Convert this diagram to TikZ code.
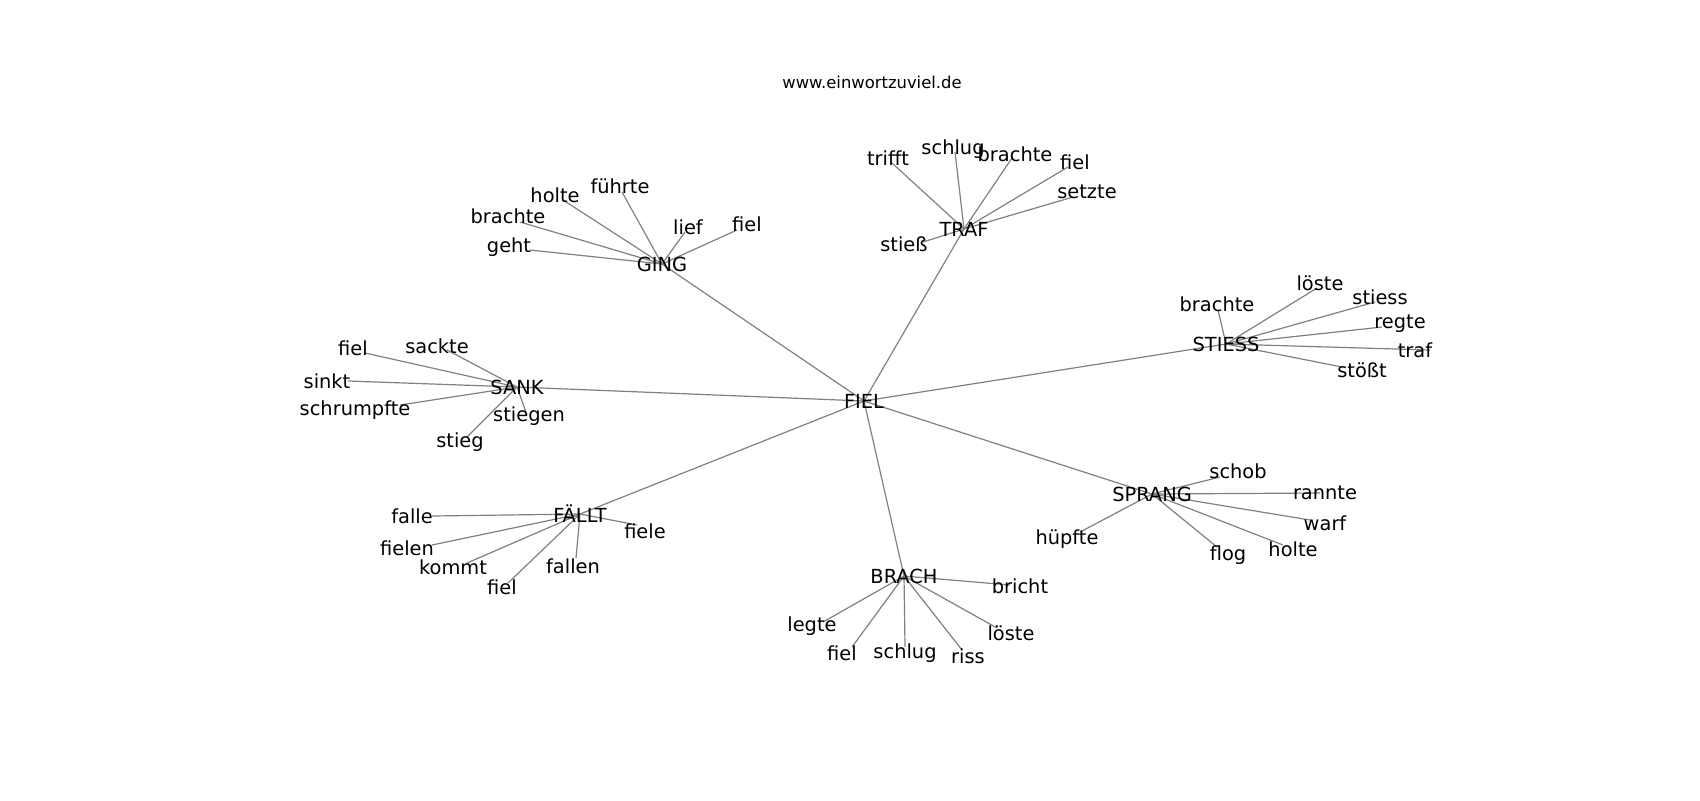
\documentclass[tikz,border=0pt]{standalone}
\usepackage{fontspec}
\setmainfont{DejaVu Sans}
\usetikzlibrary{backgrounds}

\begin{document}
\begin{tikzpicture}[
      x=0.5pt, y=-0.5pt,
      word/.style={inner sep=0pt, font=\fontsize{9.7}{11.6}\selectfont},
      hub/.style={word},
      title/.style={inner sep=0pt, font=\fontsize{8.2}{9.8}\selectfont},
      edge/.style={draw=black!50, line width=0.6pt}
      ]
      \useasboundingbox (0,0) rectangle (1700,800);

      % Title
      \node[title] (site) at (872,82) {www.einwortzuviel.de};

      % Centre word
      \node[hub] (fiel) at (864,401) {FIEL};

      % Hub words round the centre
      \node[hub] (ging) at (662,264) {GING};
      \node[hub] (traf) at (964,229) {TRAF};
      \node[hub] (stiess) at (1226,344) {STIESS};
      \node[hub] (sank) at (517,387) {SANK};
      \node[hub] (faellt) at (580,514) {FÄLLT};
      \node[hub] (brach) at (904,576) {BRACH};
      \node[hub] (sprang) at (1152,494) {SPRANG};

      % Leaves of GING
      \node[word] (gingGeht) at (509,247) {geht};
      \node[word] (gingBrachte) at (508,216) {brachte};
      \node[word] (gingHolte) at (555,195) {holte};
      \node[word] (gingFuehrte) at (620,186) {führte};
      \node[word] (gingLief) at (688,227) {lief};
      \node[word] (gingFiel) at (747,224) {fiel};

      % Leaves of TRAF
      \node[word] (trafTrifft) at (888,158) {trifft};
      \node[word] (trafSchlug) at (953,149) {schlug};
      \node[word] (trafBrachte) at (1015,154) {brachte};
      \node[word] (trafFiel) at (1075,162) {fiel};
      \node[word] (trafSetzte) at (1087,192) {setzte};
      \node[word] (trafStiess) at (904,244) {stieß};

      % Leaves of STIESS
      \node[word] (stiessBrachte) at (1217,304) {brachte};
      \node[word] (stiessLoeste) at (1320,283) {löste};
      \node[word] (stiessStiess) at (1380,297) {stiess};
      \node[word] (stiessRegte) at (1400,324) {regte};
      \node[word] (stiessTraf) at (1415,350) {traf};
      \node[word] (stiessStoesst) at (1362,370) {stößt};

      % Leaves of SANK
      \node[word] (sankFiel) at (353,348) {fiel};
      \node[word] (sankSackte) at (437,346) {sackte};
      \node[word] (sankSinkt) at (327,381) {sinkt};
      \node[word] (sankSchrumpfte) at (355,410) {schrumpfte};
      \node[word] (sankStiegen) at (529,416) {stiegen};
      \node[word] (sankStieg) at (460,442) {stieg};

      % Leaves of FÄLLT
      \node[word] (faelltFalle) at (412,516) {falle};
      \node[word] (faelltFiele) at (645,531) {fiele};
      \node[word] (faelltFielen) at (407,548) {fielen};
      \node[word] (faelltKommt) at (453,567) {kommt};
      \node[word] (faelltFallen) at (573,566) {fallen};
      \node[word] (faelltFiel) at (502,587) {fiel};

      % Leaves of BRACH
      \node[word] (brachBricht) at (1020,586) {bricht};
      \node[word] (brachLegte) at (812,626) {legte};
      \node[word] (brachFiel) at (842,653) {fiel};
      \node[word] (brachSchlug) at (905,653) {schlug};
      \node[word] (brachRiss) at (968,656) {riss};
      \node[word] (brachLoeste) at (1011,633) {löste};

      % Leaves of SPRANG
      \node[word] (sprangSchob) at (1238,471) {schob};
      \node[word] (sprangRannte) at (1325,493) {rannte};
      \node[word] (sprangWarf) at (1325,523) {warf};
      \node[word] (sprangHolte) at (1293,549) {holte};
      \node[word] (sprangFlog) at (1228,555) {flog};
      \node[word] (sprangHuepfte) at (1067,539) {hüpfte};

      % Edges - behind the words
      \begin{scope}[on background layer]
        \draw[edge] (fiel.center) -- (ging.center);
        \draw[edge] (fiel.center) -- (traf.center);
        \draw[edge] (fiel.center) -- (stiess.center);
        \draw[edge] (fiel.center) -- (sank.center);
        \draw[edge] (fiel.center) -- (faellt.center);
        \draw[edge] (fiel.center) -- (brach.center);
        \draw[edge] (fiel.center) -- (sprang.center);

        \draw[edge] (ging.center) -- ([shift={(21,3)}]gingGeht.center);
        \draw[edge] (ging.center) -- ([shift={(12,6)}]gingBrachte.center);
        \draw[edge] (ging.center) -- ([shift={(8,5)}]gingHolte.center);
        \draw[edge] (ging.center) -- ([shift={(2,6)}]gingFuehrte.center);
        \draw[edge] (ging.center) -- ([shift={(-3,5)}]gingLief.center);
        \draw[edge] (ging.center) -- ([shift={(-10,6)}]gingFiel.center);

        \draw[edge] (traf.center) -- ([shift={(4,5)}]trafTrifft.center);
        \draw[edge] (traf.center) -- ([shift={(2,3)}]trafSchlug.center);
        \draw[edge] (traf.center) -- ([shift={(-3,4)}]trafBrachte.center);
        \draw[edge] (traf.center) -- ([shift={(-7,5)}]trafFiel.center);
        \draw[edge] (traf.center) -- ([shift={(-14,5)}]trafSetzte.center);
        \draw[edge] (traf.center) -- ([shift={(19,-2)}]trafStiess.center);

        \draw[edge] (stiess.center) -- ([shift={(1,6)}]stiessBrachte.center);
        \draw[edge] (stiess.center) -- ([shift={(-3,5)}]stiessLoeste.center);
        \draw[edge] (stiess.center) -- ([shift={(-5,5)}]stiessStiess.center);
        \draw[edge] (stiess.center) -- ([shift={(-18,3)}]stiessRegte.center);
        \draw[edge] (stiess.center) -- ([shift={(15,0)}]stiessTraf.center);
        \draw[edge] (stiess.center) -- ([shift={(-20,-3)}]stiessStoesst.center);

        \draw[edge] (sank.center) -- ([shift={(12,5)}]sankFiel.center);
        \draw[edge] (sank.center) -- ([shift={(10,4)}]sankSackte.center);
        \draw[edge] (sank.center) -- ([shift={(21,0)}]sankSinkt.center);
        \draw[edge] (sank.center) -- ([shift={(45,-5)}]sankSchrumpfte.center);
        \draw[edge] (sank.center) -- ([shift={(-2,-1)}]sankStiegen.center);
        \draw[edge] (sank.center) -- ([shift={(7,-5)}]sankStieg.center);

        \draw[edge] (faellt.center) -- ([shift={(20,0)}]faelltFalle.center);
        \draw[edge] (faellt.center) -- ([shift={(-8,-6)}]faelltFiele.center);
        \draw[edge] (faellt.center) -- ([shift={(25,-3)}]faelltFielen.center);
        \draw[edge] (faellt.center) -- ([shift={(14,-4)}]faelltKommt.center);
        \draw[edge] (faellt.center) -- ([shift={(3,-8)}]faelltFallen.center);
        \draw[edge] (faellt.center) -- ([shift={(6,-4)}]faelltFiel.center);

        \draw[edge] (brach.center) -- ([shift={(-10,-1)}]brachBricht.center);
        \draw[edge] (brach.center) -- ([shift={(11,-4)}]brachLegte.center);
        \draw[edge] (brach.center) -- ([shift={(10,-6)}]brachFiel.center);
        \draw[edge] (brach.center) -- ([shift={(0,-6)}]brachSchlug.center);
        \draw[edge] (brach.center) -- ([shift={(-6,-6)}]brachRiss.center);
        \draw[edge] (brach.center) -- ([shift={(-14,-5)}]brachLoeste.center);

        \draw[edge] (sprang.center) -- ([shift={(-18,6)}]sprangSchob.center);
        \draw[edge] (sprang.center) -- ([shift={(-5,0)}]sprangRannte.center);
        \draw[edge] (sprang.center) -- ([shift={(-15,-3)}]sprangWarf.center);
        \draw[edge] (sprang.center) -- ([shift={(-10,-4)}]sprangHolte.center);
        \draw[edge] (sprang.center) -- ([shift={(-11,-8)}]sprangFlog.center);
        \draw[edge] (sprang.center) -- ([shift={(13,-7)}]sprangHuepfte.center);
      \end{scope}

   \end{tikzpicture}
\end{document}
